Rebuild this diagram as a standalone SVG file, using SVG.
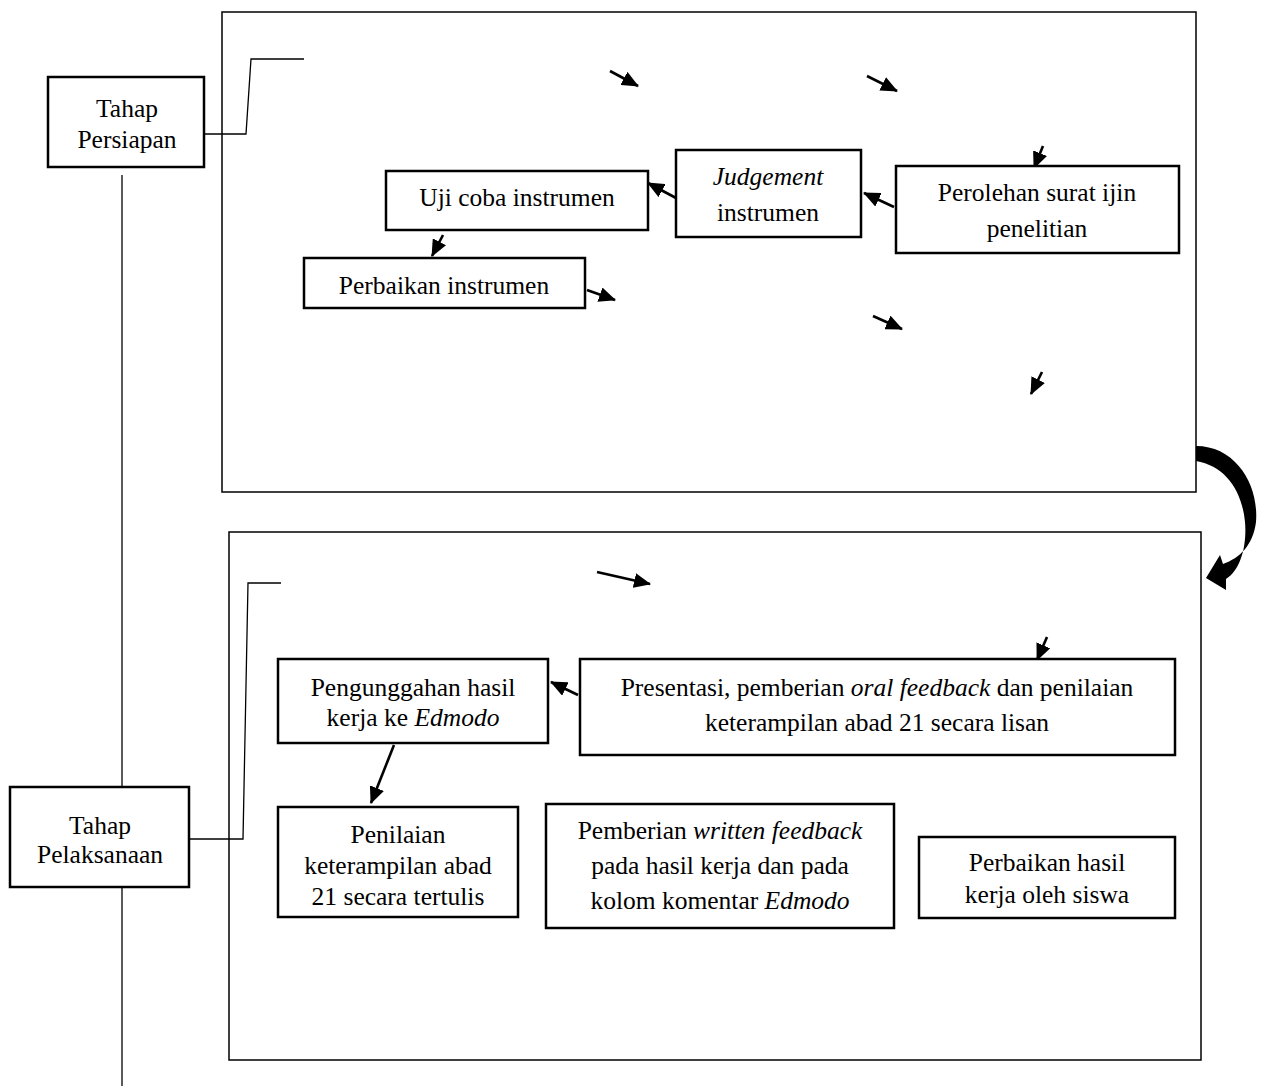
<svg xmlns="http://www.w3.org/2000/svg" width="1264" height="1090" viewBox="0 0 1264 1090">
<style>
.box{fill:#fff;stroke:#000;stroke-width:2.5}
.frame{fill:none;stroke:#000;stroke-width:1.5}
.ln{fill:none;stroke:#000;stroke-width:1.3}
.ar{fill:none;stroke:#000;stroke-width:2.6;marker-end:url(#ah)}
text{font-family:"Liberation Serif","Times New Roman",serif;font-size:25.5px;fill:#000;text-anchor:middle}
.i{font-style:italic}
</style>
<defs>
<marker id="ah" viewBox="0 0 17 15" refX="16" refY="7.5" markerWidth="17" markerHeight="15" markerUnits="userSpaceOnUse" orient="auto">
<path d="M0,0 L17,7.5 L0,15 Z" fill="#000"/>
</marker>
</defs>
<rect width="1264" height="1090" fill="#fff"/>
<g id="frames">
<rect class="frame" x="222" y="12" width="974" height="480"/>
<rect class="frame" x="229" y="532" width="972" height="528"/>
</g>
<g id="connectors">
<line class="ln" x1="122" y1="175" x2="122" y2="787"/>
<line class="ln" x1="122" y1="888" x2="122" y2="1086"/>
<polyline class="ln" points="204,134 246,134 251,59 304,59"/>
<polyline class="ln" points="189,839 243,839 248,583 281,583"/>
<line class="ar" x1="610" y1="71" x2="638" y2="86"/>
<line class="ar" x1="867" y1="76" x2="897" y2="91"/>
<line class="ar" x1="1043" y1="146" x2="1034" y2="168"/>
<line class="ar" x1="894" y1="207" x2="864" y2="193"/>
<line class="ar" x1="676" y1="198" x2="648" y2="183"/>
<line class="ar" x1="443" y1="235" x2="432" y2="256"/>
<line class="ar" x1="587" y1="290" x2="615" y2="300"/>
<line class="ar" x1="873" y1="316" x2="902" y2="329"/>
<line class="ar" x1="1042" y1="372" x2="1031" y2="394"/>
<line class="ar" x1="597" y1="572" x2="650" y2="584"/>
<line class="ar" x1="1047" y1="637" x2="1037" y2="660"/>
<line class="ar" x1="578" y1="695" x2="551" y2="682"/>
<line class="ar" x1="394" y1="745" x2="371" y2="803"/>
<path d="M1196,446 C1236,446 1259,485 1256,522 C1253,545 1240,558 1223,564 L1220,555 L1206,578 L1226,590 L1226,579 C1241,570 1247,545 1245,522 C1242,490 1225,466 1196,461 Z" fill="#000"/>
</g>
<g id="n-persiapan">
<rect class="box" x="48" y="77" width="156" height="90"/>
<text x="127" y="117">Tahap</text>
<text x="127" y="148">Persiapan</text>
</g>
<g id="n-ujicoba">
<rect class="box" x="386" y="171" width="262" height="59"/>
<text x="517" y="206">Uji coba instrumen</text>
</g>
<g id="n-judgement">
<rect class="box" x="676" y="150" width="185" height="87"/>
<text x="768" y="185" class="i">Judgement</text>
<text x="768" y="221">instrumen</text>
</g>
<g id="n-perolehan">
<rect class="box" x="896" y="166" width="283" height="87"/>
<text x="1037" y="201">Perolehan surat ijin</text>
<text x="1037" y="237">penelitian</text>
</g>
<g id="n-perbaikan-instrumen">
<rect class="box" x="304" y="258" width="281" height="50"/>
<text x="444" y="294">Perbaikan instrumen</text>
</g>
<g id="n-pelaksanaan">
<rect class="box" x="10" y="787" width="179" height="100"/>
<text x="100" y="834">Tahap</text>
<text x="100" y="863">Pelaksanaan</text>
</g>
<g id="n-pengunggahan">
<rect class="box" x="278" y="659" width="270" height="84"/>
<text x="413" y="696">Pengunggahan hasil</text>
<text x="413" y="726">kerja ke <tspan class="i">Edmodo</tspan></text>
</g>
<g id="n-presentasi">
<rect class="box" x="580" y="659" width="595" height="96"/>
<text x="877" y="696">Presentasi, pemberian <tspan class="i">oral feedback</tspan> dan penilaian</text>
<text x="877" y="731">keterampilan abad 21 secara lisan</text>
</g>
<g id="n-penilaian">
<rect class="box" x="278" y="807" width="240" height="110"/>
<text x="398" y="843">Penilaian</text>
<text x="398" y="874">keterampilan abad</text>
<text x="398" y="905">21 secara tertulis</text>
</g>
<g id="n-pemberian">
<rect class="box" x="546" y="804" width="348" height="124"/>
<text x="720" y="839">Pemberian <tspan class="i">written feedback</tspan></text>
<text x="720" y="874">pada hasil kerja dan pada</text>
<text x="720" y="909">kolom komentar <tspan class="i">Edmodo</tspan></text>
</g>
<g id="n-perbaikan-hasil">
<rect class="box" x="919" y="837" width="256" height="81"/>
<text x="1047" y="871">Perbaikan hasil</text>
<text x="1047" y="903">kerja oleh siswa</text>
</g>
</svg>
